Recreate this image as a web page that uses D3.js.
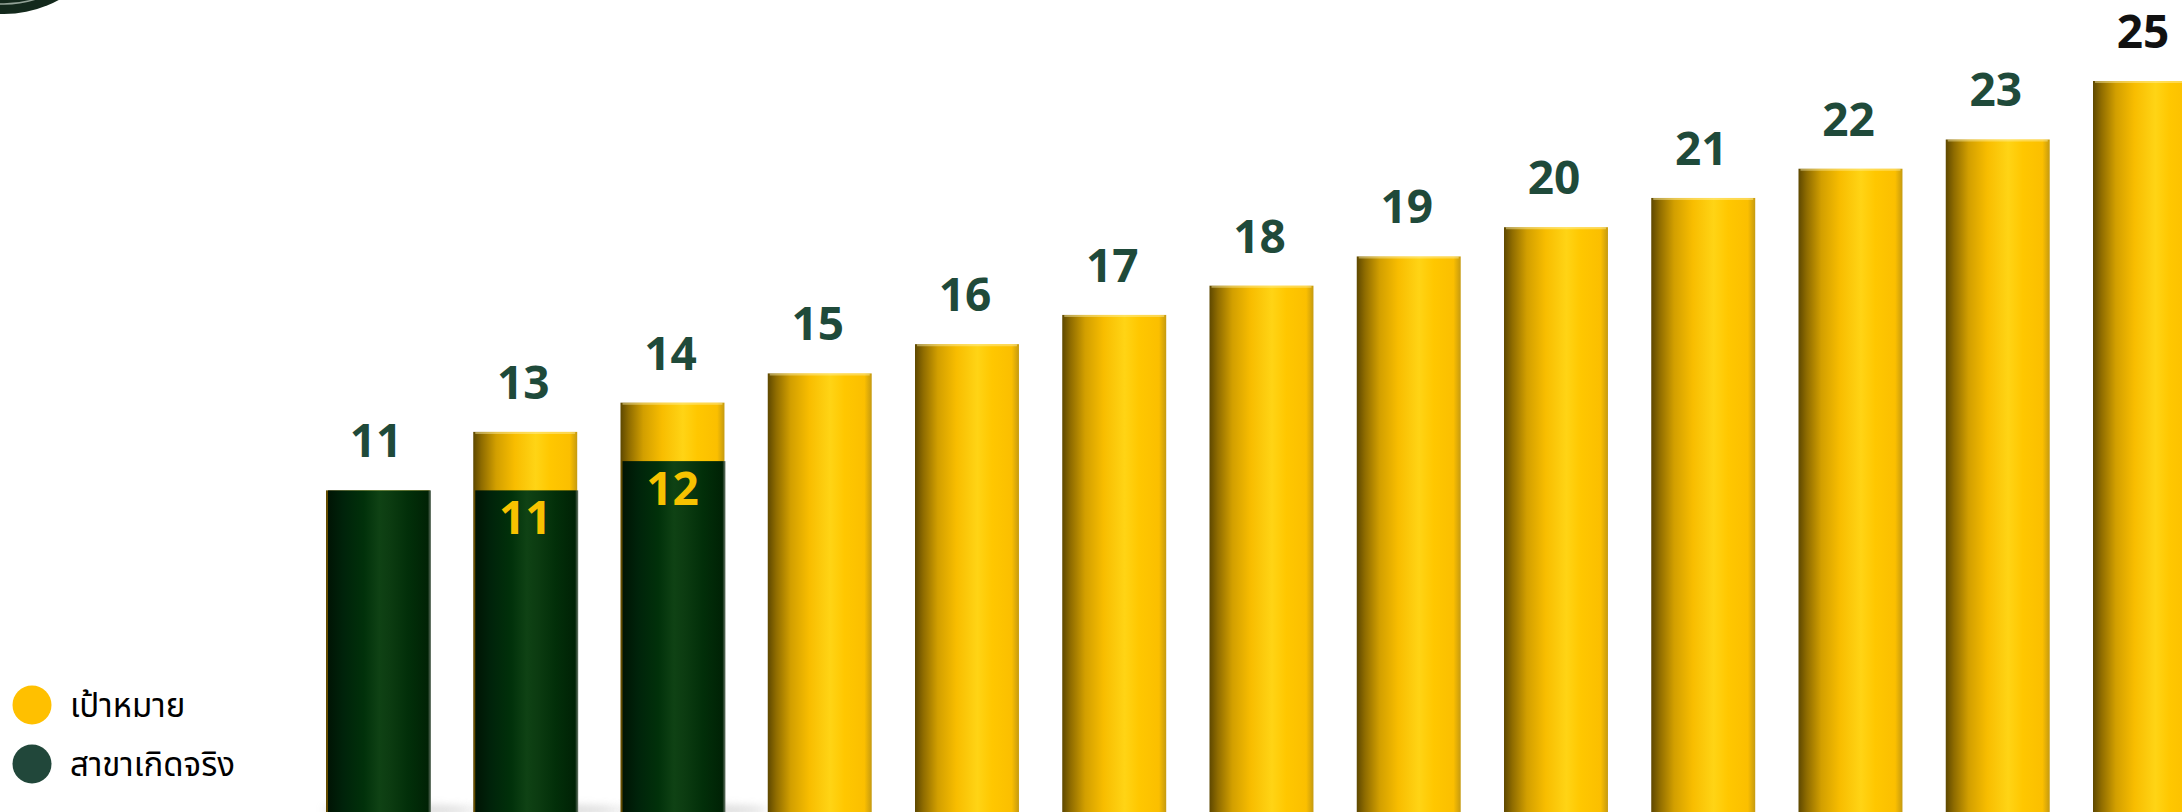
<!DOCTYPE html>
<html>
<head>
<meta charset="utf-8">
<script src="https://cdn.jsdelivr.net/npm/d3@7"></script>
<style>
  html, body { margin: 0; padding: 0; background: #fff; overflow: hidden; }
  svg { display: block; }
</style>
</head>
<body>
<div id="chart"></div>
<script>
const WIDTH = 2182;
const HEIGHT = 812;

// data
const periods = ["1", "2", "3", "4", "5", "6", "7", "8", "9", "10", "11", "12", "13"];
const targetValues = [11, 13, 14, 15, 16, 17, 18, 19, 20, 21, 22, 23, 25];
const actualValues = [11, 11, 12, null, null, null, null, null, null, null, null, null, null];
const legendLabels = ["เป้าหมาย", "สาขาเกิดจริง"];

const YELLOW = "#ffc000";
const GREEN = "#21473a";
const LABEL = "#1f4a3a";

const svg = d3.select("#chart")
    .append("svg")
    .attr("width", WIDTH)
    .attr("height", HEIGHT);

const defs = svg.append("defs");

const yellowGrad = defs.append("linearGradient")
    .attr("id", "gYellow")
    .attr("x1", "0%").attr("x2", "100%").attr("y1", "0%").attr("y2", "0%");
[["0%", "#5e4800"], ["8%", "#8f6c00"], ["22%", "#d29f00"], ["40%", "#f8bd00"],
 ["60%", "#ffd415"], ["74%", "#ffc700"], ["93%", "#fbbf00"], ["100%", "#c59a10"]]
    .forEach(s => yellowGrad.append("stop").attr("offset", s[0]).attr("stop-color", s[1]));

const greenGrad = defs.append("linearGradient")
    .attr("id", "gGreen")
    .attr("x1", "0%").attr("x2", "100%").attr("y1", "0%").attr("y2", "0%");
[["0%", "#001404"], ["15%", "#00230a"], ["35%", "#01310a"], ["50%", "#0f4214"],
 ["60%", "#0c3c11"], ["78%", "#022f09"], ["97%", "#002205"], ["100%", "#6c7a6c"]]
    .forEach(s => greenGrad.append("stop").attr("offset", s[0]).attr("stop-color", s[1]));

defs.append("filter").attr("id", "blur")
    .attr("x", "-50%").attr("y", "-200%").attr("width", "200%").attr("height", "500%")
    .append("feGaussianBlur").attr("stdDeviation", 4);

// scales
const x = d3.scaleBand()
    .domain(periods)
    .range([326, 326 + 147.25 * (periods.length - 0.294)])
    .paddingInner(0.294)
    .paddingOuter(0);

const y = d3.scaleLinear()
    .domain([0, 25])
    .range([HEIGHT, 81]);

// logo piece in the corner (cut off)
svg.append("circle")
    .attr("cx", 4).attr("cy", -100).attr("r", 114)
    .attr("fill", "#13291c");
svg.append("circle")
    .attr("cx", 4).attr("cy", -100).attr("r", 104)
    .attr("fill", "none")
    .attr("stroke", "#c9d6cc")
    .attr("stroke-width", 1.5)
    .attr("opacity", 0.7);

// soft shadows under the green bars
svg.append("g").selectAll("ellipse")
    .data(periods.filter((p, i) => actualValues[i] != null))
    .enter().append("ellipse")
    .attr("cx", d => x(d) + x.bandwidth() / 2 + 20)
    .attr("cy", HEIGHT - 2)
    .attr("rx", 75)
    .attr("ry", 5)
    .attr("fill", "#bdbdbd")
    .attr("opacity", 0.6)
    .attr("filter", "url(#blur)");

// target bars
const targetG = svg.append("g");
targetG.selectAll("rect")
    .data(targetValues)
    .enter().append("rect")
    .attr("x", (d, i) => x(periods[i]))
    .attr("y", d => y(d))
    .attr("width", x.bandwidth())
    .attr("height", d => y(0) - y(d))
    .attr("fill", "url(#gYellow)");

// little light rim on top of the target bars
targetG.selectAll("line")
    .data(targetValues)
    .enter().append("line")
    .attr("x1", (d, i) => x(periods[i]) + 2)
    .attr("x2", (d, i) => x(periods[i]) + x.bandwidth() - 2)
    .attr("y1", d => y(d) + 1)
    .attr("y2", d => y(d) + 1)
    .attr("stroke", "#fff3b0")
    .attr("stroke-width", 2)
    .attr("opacity", 0.45);

// actual bars
const actualData = actualValues
    .map((v, i) => ({ period: periods[i], value: v, target: targetValues[i] }))
    .filter(d => d.value != null);

svg.append("g").selectAll("rect")
    .data(actualData)
    .enter().append("rect")
    .attr("x", d => x(d.period) + 2)
    .attr("y", d => y(d.value))
    .attr("width", x.bandwidth() - 1)
    .attr("height", d => y(0) - y(d.value))
    .attr("fill", "url(#gGreen)");

// value labels above the bars
svg.append("g").selectAll("text")
    .data(targetValues)
    .enter().append("text")
    .attr("x", (d, i) => x(periods[i]) + x.bandwidth() / 2 - 2)
    .attr("y", d => y(d) - 33)
    .attr("text-anchor", "middle")
    .attr("fill", (d, i) => i === targetValues.length - 1 ? "#111" : LABEL)
    .style("font-family", "'Open Sans', 'Noto Sans', sans-serif")
    .style("font-weight", 700)
    .style("font-size", "46px")
    .text(d => d);

// actual labels inside the green bars
svg.append("g").selectAll("text")
    .data(actualData.filter(d => d.value < d.target))
    .enter().append("text")
    .attr("x", d => x(d.period) + x.bandwidth() / 2)
    .attr("y", d => y(d.value) + 44)
    .attr("text-anchor", "middle")
    .attr("fill", "#f7c200")
    .style("font-family", "'Open Sans', 'Noto Sans', sans-serif")
    .style("font-weight", 700)
    .style("font-size", "46px")
    .text(d => d.value);

// legend
const legend = svg.append("g").attr("class", "legend");
const legendColors = [YELLOW, GREEN];
legend.selectAll("circle")
    .data(legendLabels)
    .enter().append("circle")
    .attr("cx", 32)
    .attr("cy", (d, i) => 705 + i * 59)
    .attr("r", 19.5)
    .attr("fill", (d, i) => legendColors[i]);

legend.selectAll("text")
    .data(legendLabels)
    .enter().append("text")
    .attr("x", 70)
    .attr("y", (d, i) => 705 + i * 59)
    .attr("dy", "0.35em")
    .attr("fill", "#000")
    .style("font-family", "'Noto Sans Thai', 'Noto Sans', 'DejaVu Sans', sans-serif")
    .style("font-size", "33px")
    .text(d => d);
</script>
</body>
</html>
